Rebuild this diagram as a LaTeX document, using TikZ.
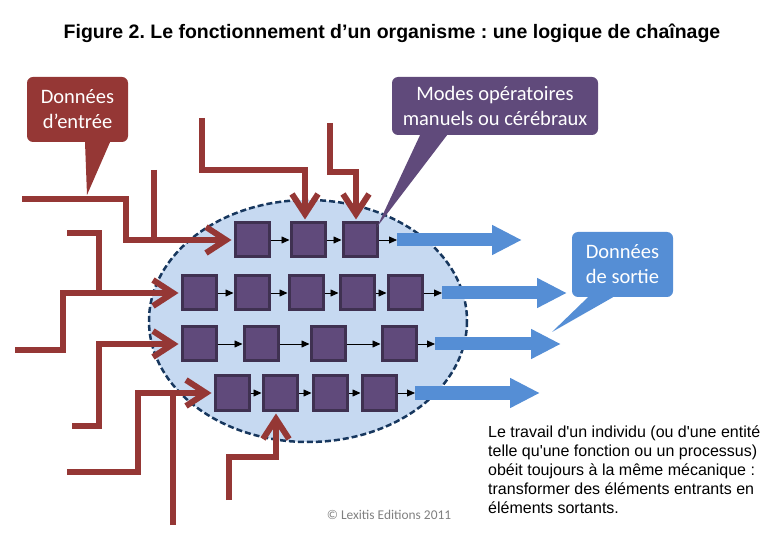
\documentclass[tikz,border=0pt]{standalone}
\usepackage{fontspec}
\setmainfont{Liberation Sans}
\newfontfamily\calibri{Carlito}
\usepackage{xcolor}
\usetikzlibrary{arrows.meta,positioning}
\frenchspacing

\definecolor{rouge}{HTML}{953735}
\definecolor{violet}{HTML}{604A7B}
\definecolor{violetfonce}{HTML}{3F3151}
\definecolor{bleu}{HTML}{558ED5}
\definecolor{ciel}{HTML}{C6D9F1}
\definecolor{marine}{HTML}{17375E}

\tikzset{
  carre/.style={draw=violetfonce,fill=violet,line width=3pt,minimum size=34pt,inner sep=0pt},
  fleche/.style={-{Triangle[length=8pt,width=7pt]},line width=0.8pt,black},
  entree/.style={draw=rouge,line width=6pt,line join=miter},
  entreefl/.style={entree,-{Straight Barb[length=20pt,width=26pt]},shorten >=2pt},
  sortie/.style={draw=bleu,line width=13pt,-{Triangle[length=30pt,width=28pt]}},
  bulle/.style={rounded corners=6pt,text=white,align=center,inner sep=0pt,font=\calibri\fontsize{20.5}{25}\selectfont}
}

\begin{document}
\begin{tikzpicture}[x=1pt,y=-1pt]
	\useasboundingbox (0,0) rectangle (780,540);

	% titre
	\node (titre) at (392,33) {\bfseries\fontsize{19.5}{22}\selectfont Figure 2. Le fonctionnement d’un organisme : une logique de chaînage};

	% l'organisme
	\draw[marine,fill=ciel,line width=2.5pt,dash pattern=on 6pt off 3pt] (308,321) ellipse (159 and 121);

	% les postes de travail
	\node[carre] (s11) at (252,240) {};
	\node[carre] (s12) at (308,240) {};
	\node[carre] (s13) at (360,240) {};

	\node[carre] (s21) at (199,293) {};
	\node[carre] (s22) at (252,293) {};
	\node[carre] (s23) at (306,293) {};
	\node[carre] (s24) at (357,293) {};
	\node[carre] (s25) at (405,293) {};

	\node[carre] (s31) at (199,344) {};
	\node[carre] (s32) at (261,344) {};
	\node[carre] (s33) at (328,344) {};
	\node[carre] (s34) at (399,344) {};

	\node[carre] (s41) at (232,393) {};
	\node[carre] (s42) at (280,393) {};
	\node[carre] (s43) at (330,393) {};
	\node[carre] (s44) at (379,393) {};

	% donnees d'entree
	\draw[entreefl] (22,199) -| (126,240) -- (s11.west);
	\draw[entree] (154,170) -- (154,240);
	\draw[entreefl] (202,118) |- (305,170) -- (s12.north -| 305,0);
	\draw[entreefl] (330,123) |- (356,172) -- (s13.north -| 356,0);
	\draw[entree] (67,233) -| (99,293);
	\draw[entreefl] (15,350) -| (63,293) -- (s21.west);
	\draw[entreefl] (72,426) -| (99,344) -- (s31.west);
	\draw[entreefl] (67,472) -| (138,393) -- (s41.west);
	\draw[entree] (173,525) -- (173,393);
	\draw[entreefl] (229,500) |- (276,457) -- (s42.south -| 276,0);

	% donnees de sortie
	\coordinate (o1) at (397,240);
	\coordinate (e1) at (522,240);
	\coordinate (o2) at (442,293);
	\coordinate (e2) at (567,293);
	\coordinate (o3) at (435,344);
	\coordinate (e3) at (561,344);
	\coordinate (o4) at (415,393);
	\coordinate (e4) at (540,393);

	% enchainements
	\draw[fleche] (s11) -- (s12);
	\draw[fleche] (s12) -- (s13);
	\draw[fleche] (s13) -- (o1);
	\draw[fleche] (s21) -- (s22);
	\draw[fleche] (s22) -- (s23);
	\draw[fleche] (s23) -- (s24);
	\draw[fleche] (s24) -- (s25);
	\draw[fleche] (s25) -- (o2);
	\draw[fleche] (s31) -- (s32);
	\draw[fleche] (s32) -- (s33);
	\draw[fleche] (s33) -- (s34);
	\draw[fleche] (s34) -- (o3);
	\draw[fleche] (s41) -- (s42);
	\draw[fleche] (s42) -- (s43);
	\draw[fleche] (s43) -- (s44);
	\draw[fleche] (s44) -- (o4);

	\draw[sortie] (o1) -- (e1);
	\draw[sortie] (o2) -- (e2);
	\draw[sortie] (o3) -- (e3);
	\draw[sortie] (o4) -- (e4);

	% bulles
	\node[bulle,fill=rouge,minimum width=101pt,minimum height=65pt] (entree) at (77.5,109.5) {Données\\d’entrée};
	\coordinate (pe) at (87,195);
	\fill[rouge] (entree.south -| 85,0) -- (pe) -- (entree.south -| 110,0) -- cycle;

	\node[bulle,fill=violet,minimum width=206pt,minimum height=58pt] (modes) at (495,106) {Modes opératoires\\manuels ou cérébraux};
	\coordinate (pm) at (377,227);
	\fill[violet] (modes.south -| 420,0) -- (pm) -- (modes.south -| 447,0) -- cycle;

	\node[bulle,fill=bleu,minimum width=101pt,minimum height=65pt] (sortie) at (622.5,264.5) {Données\\de sortie};
	\coordinate (ps) at (552,332);
	\fill[bleu] (sortie.south -| 588,0) -- (ps) -- (sortie.south -| 613,0) -- cycle;

	% textes
	\node[anchor=north west,align=left,inner sep=0pt,font=\fontsize{16}{19}\selectfont] (texte) at (488,426) {Le travail d\textquotesingle un individu (ou d\textquotesingle une entité\\telle qu\textquotesingle une fonction ou un processus)\\obéit toujours à la même mécanique :\\transformer des éléments entrants en\\éléments sortants.};
	\node[gray,font=\calibri\fontsize{13.4}{15}\selectfont] (copy) at (389,515) {© Lexitis Editions 2011};
\end{tikzpicture}
\end{document}
